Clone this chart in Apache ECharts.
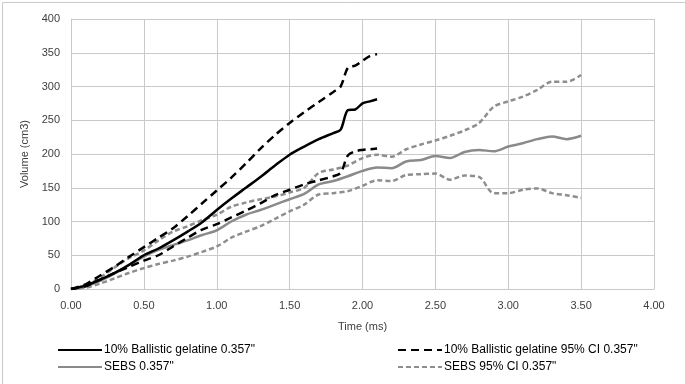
<!DOCTYPE html>
<html>
<head>
<meta charset="utf-8">
<script src="https://cdn.jsdelivr.net/npm/echarts@6/dist/echarts.min.js"></script>
<style>
html,body{margin:0;padding:0;background:#fff;}
#chart{width:685px;height:384px;}
</style>
</head>
<body>
<div id="chart"></div>
<script>
// Time (ms) values
var gelTime  = [0, 0.1, 0.2, 0.3, 0.4, 0.5, 0.6, 0.7, 0.8, 0.9, 1.0, 1.1, 1.2, 1.3, 1.4, 1.5, 1.6, 1.7, 1.8, 1.85, 1.9, 1.95, 2.0, 2.05, 2.1];
var gelMean  = [0, 5, 14, 24, 36, 50, 60, 72, 85, 99, 117, 134, 150, 166, 183, 199, 211, 222, 231, 236, 265, 266, 275, 278, 281];
var gelUpper = [0, 7, 20, 33, 48, 62, 76, 90, 108, 127, 146, 165, 186, 208, 228, 246, 262, 277, 292, 300, 328, 331, 338, 345, 348];
var gelLower = [0, 4, 14, 24, 33, 42, 50, 63, 76, 88, 96, 106, 116, 127, 139, 147, 155, 161, 167, 172, 198, 204, 206, 207, 208];

var sebsTime  = [0, 0.1, 0.2, 0.3, 0.4, 0.5, 0.6, 0.7, 0.8, 0.9, 1.0, 1.1, 1.2, 1.3, 1.4, 1.5, 1.6, 1.7, 1.8, 1.9, 2.0, 2.1, 2.2, 2.3, 2.4, 2.5, 2.6, 2.7, 2.8, 2.9, 3.0, 3.1, 3.2, 3.3, 3.4, 3.5];
var sebsMean  = [0, 4, 12, 23, 36, 48, 58, 65, 72, 80, 87, 100, 110, 117, 125, 133, 141, 155, 160, 167, 175, 180, 179, 189, 191, 197, 194, 203, 206, 204, 211, 216, 222, 226, 222, 227];
var sebsUpper = [0, 6, 17, 32, 46, 57, 72, 85, 93, 102, 110, 122, 128, 133, 137, 143, 150, 172, 177, 183, 194, 199, 196, 207, 214, 220, 227, 235, 246, 270, 278, 285, 295, 307, 307, 317];
var sebsLower = [0, 2, 8, 16, 24, 31, 37, 42, 48, 55, 63, 76, 85, 93, 104, 115, 125, 140, 142, 145, 153, 161, 160, 169, 170, 171, 162, 168, 166, 142, 142, 147, 149, 142, 139, 135];

var xTicks = [0, 0.5, 1.0, 1.5, 2.0, 2.5, 3.0, 3.5, 4.0];
var yTicks = [0, 50, 100, 150, 200, 250, 300, 350, 400];

var names = [
  '10% Ballistic gelatine 0.357"',
  '10% Ballistic gelatine 95% CI 0.357"',
  'SEBS 0.357"',
  'SEBS 95% CI 0.357"'
];

function pairs(t, v) { return t.map(function (x, i) { return [x, v[i]]; }); }

var FONT = 'Liberation Sans';
var GRID = '#c9c9c9';

var chart = echarts.init(document.getElementById('chart'), null, {renderer: 'canvas'});

function lineSeries(name, t, v, color, width, type) {
  return {
    name: name, type: 'line', data: pairs(t, v),
    symbol: 'none', smooth: 0.3, animation: false,
    lineStyle: {color: color, width: width, type: type, cap: 'butt'},
    itemStyle: {color: color}
  };
}

var legendCommon = {
  orient: 'vertical', top: 344, padding: 0,
  itemWidth: 44, itemHeight: 12, itemGap: 5,
  itemStyle: {opacity: 0},
  textStyle: {color: '#000', fontSize: 12, fontFamily: FONT, padding: [0, 0, 0, -3]}
};

chart.setOption({
  backgroundColor: '#fff',
  animation: false,
  textStyle: {fontFamily: FONT},
  graphic: [{
    type: 'rect', left: 0, top: 0, silent: true,
    shape: {x: 0.5, y: 0.5, width: 684, height: 383},
    style: {fill: 'none', stroke: '#c9c9c9', lineWidth: 1}
  }],
  grid: {left: 71, right: 31, top: 19, bottom: 95, containLabel: false},
  xAxis: {
    type: 'value', min: xTicks[0], max: xTicks[xTicks.length - 1], interval: xTicks[1] - xTicks[0],
    name: 'Time (ms)', nameLocation: 'middle', nameGap: 32,
    nameTextStyle: {color: '#404040', fontSize: 11, fontFamily: FONT},
    axisLine: {show: true, lineStyle: {color: GRID, width: 1}},
    axisTick: {show: false},
    axisLabel: {color: '#404040', fontSize: 11, fontFamily: FONT, margin: 11,
      formatter: function (v) { return v.toFixed(2); }},
    splitLine: {show: true, lineStyle: {color: GRID, width: 1}}
  },
  yAxis: {
    type: 'value', min: yTicks[0], max: yTicks[yTicks.length - 1], interval: yTicks[1] - yTicks[0],
    name: 'Volume (cm3)', nameLocation: 'middle', nameGap: 28,
    nameTextStyle: {color: '#404040', fontSize: 11, fontFamily: FONT},
    axisLine: {show: true, lineStyle: {color: GRID, width: 1}},
    axisTick: {show: false},
    axisLabel: {color: '#404040', fontSize: 11, fontFamily: FONT, margin: 11},
    splitLine: {show: true, lineStyle: {color: GRID, width: 1}}
  },
  legend: [
    Object.assign({}, legendCommon, {left: 57, data: [names[0], names[2]]}),
    Object.assign({}, legendCommon, {left: 397, data: [names[1], names[3]]})
  ],
  series: [
    lineSeries(names[2], sebsTime, sebsMean, '#8a8a8a', 2.5, 'solid'),
    lineSeries(names[3], sebsTime, sebsUpper, '#8e8e8e', 2.5, [5, 3]),
    lineSeries(names[3], sebsTime, sebsLower, '#8e8e8e', 2.5, [5, 3]),
    lineSeries(names[0], gelTime, gelMean, '#000000', 2.5, 'solid'),
    lineSeries(names[1], gelTime, gelUpper, '#000000', 2.5, [8, 5]),
    lineSeries(names[1], gelTime, gelLower, '#000000', 2.5, [8, 5])
  ]
});
</script>
</body>
</html>
